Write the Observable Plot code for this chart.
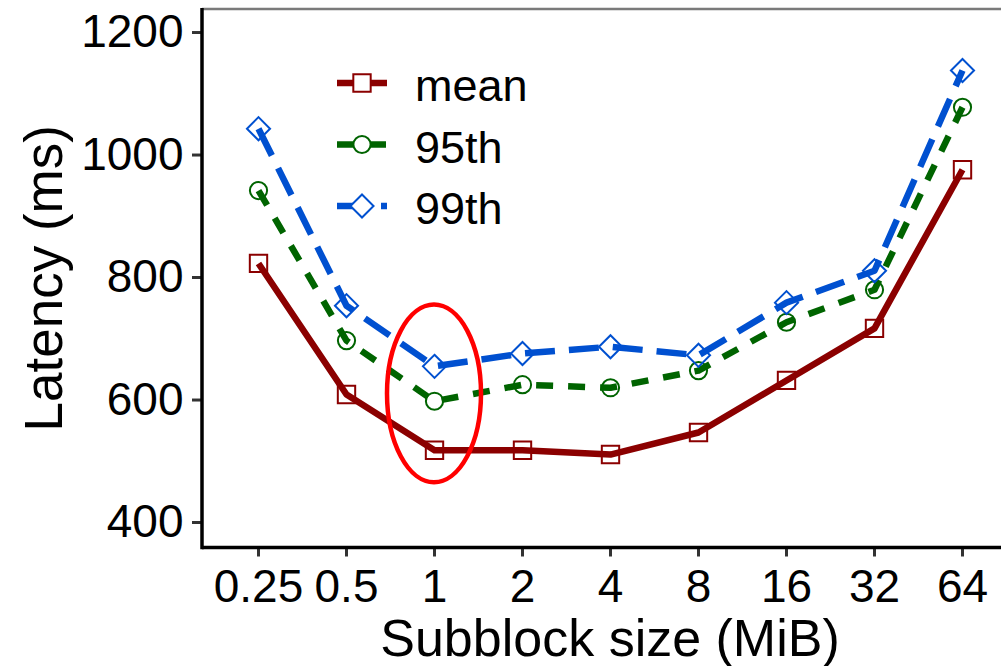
<!DOCTYPE html>
<html>
<head>
<meta charset="utf-8">
<script src="https://cdn.jsdelivr.net/npm/d3@7"></script>
<script src="https://cdn.jsdelivr.net/npm/@observablehq/plot@0.6"></script>
<style>
  html, body { margin: 0; padding: 0; background: #fff; }
  #chart svg { display: block; }
</style>
</head>
<body>
<div id="chart"></div>
<script>
// Subblock sizes (MiB) and latency statistics (ms)
const sizes = ["0.25", "0.5", "1", "2", "4", "8", "16", "32", "64"];
const meanLatency = [823, 609, 518, 518, 511, 547, 632, 717, 976];
const p95Latency  = [942, 697, 598, 625, 620, 648, 727, 780, 1078];
const p99Latency  = [1043, 754, 655, 676, 687, 673, 759, 811, 1138];
const yTicks = [400, 600, 800, 1000, 1200];

const seriesNames   = ["mean", "95th", "99th"];
const seriesValues  = [meanLatency, p95Latency, p99Latency];
const seriesColors  = ["#8b0000", "#006400", "#0050d0"];
const seriesDash    = [null, "17,15", "30,14"];
const seriesSymbols = ["square", "circle", "diamond2"];
const seriesRadius  = [9.8, 8.6, 10.4];

// highlighted subblock size and the latency band the ellipse covers
const highlightSize = "1";
const highlightLow = 465;
const highlightHigh = 755;

const FONT = "'Liberation Sans', Arial, Helvetica, sans-serif";

const rows = seriesNames.flatMap((name, s) =>
  sizes.map((size, i) => ({ series: name, size, value: seriesValues[s][i] }))
);

const lineMarks = seriesNames.map((name, s) =>
  Plot.line(rows.filter(d => d.series === name), {
    x: "size", y: "value",
    stroke: seriesColors[s], strokeWidth: 6.5,
    strokeDasharray: seriesDash[s] ?? undefined,
    strokeLinecap: "butt", strokeLinejoin: "round"
  })
);
const dotMarks = seriesNames.map((name, s) =>
  Plot.dot(rows.filter(d => d.series === name), {
    x: "size", y: "value",
    symbol: () => seriesSymbols[s], r: seriesRadius[s],
    stroke: seriesColors[s], strokeWidth: 2, fill: "none"
  })
);

// panel border, axis titles, legend and highlight ellipse
function decorations(index, scales, values, dims) {
  const { width, height, marginLeft, marginTop, marginBottom, marginRight } = dims;
  const g = d3.create("svg:g");
  const bottom = height - marginBottom;
  g.append("line").attr("x1", marginLeft).attr("x2", width - marginRight)
    .attr("y1", marginTop).attr("y2", marginTop)
    .attr("stroke", "#7a7a7a").attr("stroke-width", 2.5);
  g.append("line").attr("x1", marginLeft).attr("x2", marginLeft)
    .attr("y1", marginTop - 1).attr("y2", bottom + 1.8)
    .attr("stroke", "#000").attr("stroke-width", 3.5);
  g.append("line").attr("x1", marginLeft).attr("x2", width - marginRight)
    .attr("y1", bottom).attr("y2", bottom)
    .attr("stroke", "#000").attr("stroke-width", 3.5);

  // highlight ellipse around the chosen subblock size
  const cx = scales.x(highlightSize);
  const yTop = scales.y(highlightHigh), yBot = scales.y(highlightLow);
  g.append("ellipse").attr("cx", cx).attr("cy", (yTop + yBot) / 2)
    .attr("rx", 47).attr("ry", (yBot - yTop) / 2)
    .attr("fill", "none").attr("stroke", "#ff0000").attr("stroke-width", 4.5);

  // axis titles
  const xMid = (scales.x(sizes[0]) + scales.x(sizes[sizes.length - 1])) / 2;
  g.append("text").attr("x", xMid).attr("y", 656)
    .attr("text-anchor", "middle").attr("font-size", 52)
    .attr("font-family", FONT).attr("fill", "#000")
    .text("Subblock size (MiB)");
  const yMid = (marginTop + bottom) / 2;
  g.append("text").attr("transform", `translate(62,${yMid}) rotate(-90)`)
    .attr("text-anchor", "middle").attr("font-size", 53)
    .attr("font-family", FONT).attr("fill", "#000")
    .text("Latency (ms)");

  // legend
  const lx0 = 337, lx1 = 387, ly0 = 83, lstep = 61.5;
  seriesNames.forEach((name, s) => {
    const y = ly0 + s * lstep;
    const row = g.append("g");
    row.append("line").attr("x1", lx0).attr("x2", lx1).attr("y1", y).attr("y2", y)
      .attr("stroke", seriesColors[s]).attr("stroke-width", 6.5)
      .attr("stroke-dasharray", seriesDash[s]).attr("stroke-linecap", "butt");
    const area = Math.PI * seriesRadius[s] ** 2;
    const sym = { square: d3.symbolSquare, circle: d3.symbolCircle, diamond2: d3.symbolDiamond2 }[seriesSymbols[s]];
    row.append("path").attr("d", d3.symbol(sym, area)())
      .attr("transform", `translate(${(lx0 + lx1) / 2},${y})`)
      .attr("fill", "#fff").attr("stroke", seriesColors[s]).attr("stroke-width", 2);
    row.append("text").attr("x", 415).attr("y", y + 18)
      .attr("text-anchor", "start")
      .attr("font-size", 45).attr("font-family", FONT).attr("fill", "#000")
      .text(name);
  });
  return g.node();
}

const chart = Plot.plot({
  width: 1001,
  height: 666,
  marginLeft: 202,
  marginRight: 0,
  marginTop: 9,
  marginBottom: 118.5,
  style: { fontFamily: FONT, background: "#fff", color: "#000" },
  x: { type: "point", domain: sizes, range: [255, 964], padding: 0, label: null },
  y: { domain: [358.4, 1237.6], label: null },
  marks: [
    Plot.axisY(yTicks, { tickSize: 10, tickPadding: 9, fontSize: 46, tickFormat: d => String(d), stroke: "#333", strokeWidth: 3, fill: "#000", label: null }),
    Plot.axisX({ tickSize: 9, tickPadding: 12, fontSize: 46, stroke: "#333", strokeWidth: 3, fill: "#000", label: null }),
    ...lineMarks,
    ...dotMarks,
    decorations
  ]
});

document.getElementById("chart").appendChild(chart);
</script>
</body>
</html>
